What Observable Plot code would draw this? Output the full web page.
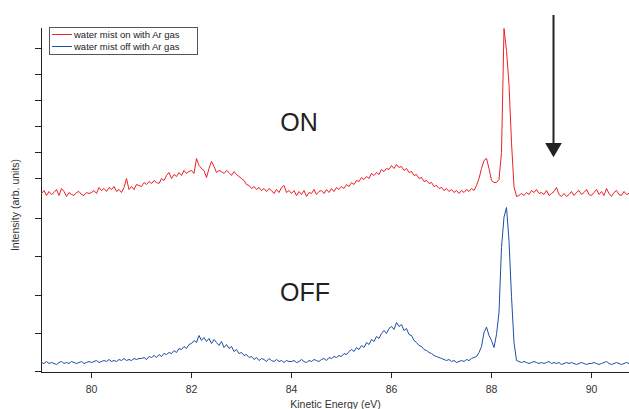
<!DOCTYPE html>
<html><head><meta charset="utf-8">
<script src="https://cdn.jsdelivr.net/npm/d3@7"></script>
<script src="https://cdn.jsdelivr.net/npm/@observablehq/plot@0.6"></script>
<style>
body{margin:0;background:#fff;font-family:"Liberation Sans",Arial,sans-serif;}
#wrap{position:relative;width:629px;height:409px;}
#legend{position:absolute;left:49px;top:27px;width:147px;height:26px;border:1px solid #555;background:#fff;font-size:9.5px;color:#222;}
.row{position:absolute;left:2px;height:12px;display:flex;align-items:center;white-space:nowrap;}
.sw{width:20px;height:1px;margin-right:2px;}
#ylab{position:absolute;left:15px;top:205px;transform:translate(-50%,-50%) rotate(-90deg);font-size:10.5px;white-space:nowrap;color:#333;}
</style></head><body><div id="wrap"></div>
<script>
// Spectra sampled every 0.05 eV from 79.00 eV (arb. units)
const eStart = 79.0, eStep = 0.05;
const seriesNames = ["water mist on with Ar gas", "water mist off with Ar gas"];
const seriesColors = ["#ee1f26", "#1f4fa3"];
const onValues = [
  89.5, 91, 88.5, 90.5, 89, 90, 91.5, 88.5, 92, 90.5, 88, 90, 89, 88.5, 90, 90.5, 89, 88.5, 90, 89.5,
  90, 91, 89.5, 92.5, 91, 92, 90.5, 92.5, 91.5, 93, 90.5, 91.5, 90, 92.5, 97, 91.5, 93, 91.5, 94, 93.5,
  93, 95, 94, 95.5, 94.5, 96, 95, 94.5, 97, 96, 98.5, 100, 97, 99, 98, 100, 98.5, 101, 99.5, 100.5,
  101, 99.5, 107, 103.5, 102, 101, 97.5, 102, 105.5, 103, 100, 101, 100.5, 99.5, 101, 100, 98.5, 100.5, 99, 98,
  97, 96, 94, 93.5, 92, 93, 91.5, 92.5, 91, 92, 90.5, 92, 91, 89.5, 91.5, 90, 92.5, 93.5, 90, 91,
  89.5, 91, 88.5, 90.5, 89, 91, 88, 90, 89.5, 91.5, 89, 90.5, 91, 89.5, 91.5, 90, 92, 90.5, 92.5, 91.5,
  93, 92, 94, 93, 95, 94, 96, 95.5, 97.5, 96.5, 98, 97, 99.5, 98.5, 100, 99, 101.5, 100.5, 102, 101.5,
  103.5, 102, 104, 102.5, 103, 101, 102, 100, 100.5, 98.5, 99, 97, 97.5, 95.5, 96, 94.5, 95, 93, 93.5, 92,
  92.5, 91, 92, 90.5, 91.5, 90, 91, 89.5, 91, 90, 91.5, 90.5, 92, 91, 93.5, 97, 102, 106, 107, 102,
  96, 95, 95, 96.5, 110, 172, 161, 144, 115, 93, 88, 88.5, 89.5, 88.5, 90, 89, 91, 90, 91.5, 89.5,
  90, 89, 91, 88.5, 89.5, 90.5, 92.5, 89, 88, 89.5, 88, 89, 90.5, 88.5, 90, 91, 89, 90, 91.5, 89,
  88.5, 90, 91.5, 89, 90.5, 88.5, 92, 89.5, 88, 90, 91, 89, 88.5, 90.5, 89, 89.5, 91
];
const offValues = [
  5, 4.5, 5.5, 4.5, 5, 4.5, 4, 5, 5.5, 4.5, 5, 4.5, 5.5, 5, 4.5, 5, 5.5, 4.5, 5, 5.5,
  5, 5.5, 6, 5, 5.5, 6, 5.5, 6.5, 5.5, 6, 5.5, 6.5, 6, 7, 6, 6.5, 6, 7, 6.5, 7,
  7, 7.5, 6.5, 8, 7.5, 8.5, 7.5, 9, 8, 9.5, 9, 10, 9.5, 11, 10, 12, 11.5, 13, 12, 14,
  14.5, 16, 15, 18.5, 16, 17.5, 15.5, 17, 14.5, 16.5, 15, 13.5, 15.5, 12.5, 14, 12, 13, 10.5, 11.5, 9.5,
  10, 8.5, 9, 7.5, 8, 6.5, 7.5, 6, 7, 6.5, 5.5, 7, 6, 5.5, 6.5, 5.5, 6, 5, 6, 5.5,
  5.5, 6, 5, 5.5, 6.5, 5.5, 5, 6, 5.5, 6.5, 6, 5.5, 6.5, 7, 6, 7.5, 7, 8, 7.5, 8.5,
  8, 9.5, 9, 10.5, 11.5, 10.5, 12.5, 11.5, 13.5, 12.5, 15, 14, 16.5, 15.5, 18, 17, 19.5, 21, 19.5, 22,
  23, 21.5, 25, 23, 24, 21, 22, 19, 18.5, 16, 15, 13.5, 13, 11.5, 11, 10, 9.5, 8.5, 8, 7.5,
  7, 6.5, 6, 6.5, 5.5, 6, 5, 5.5, 6, 5.5, 6.5, 6, 7, 7.5, 8, 10, 13, 20, 22.7, 18.5,
  16, 12.5, 19, 30, 62.5, 77.7, 82.5, 66, 38, 15, 6, 5.5, 5, 5.5, 5, 4.5, 5, 5.5, 5, 4.5,
  5, 4.5, 5, 5.5, 4.5, 5, 4.5, 5, 4, 4.5, 5, 4.5, 5, 4.5, 4, 4.5, 5, 4.5, 4, 4.5,
  4.5, 5, 4.5, 4, 4.5, 5, 5.5, 4.5, 4, 4.5, 5, 4.5, 4, 4.5, 5, 4.5, 4.5
];
const xTicks = [80, 82, 84, 86, 88, 90];
const yTicksOn = [97, 110, 123, 136, 149, 162];
const yTicksOff = [0.5, 19.5, 38.5, 58, 77];
const axisTop = 172;
const panelLabels = ["ON", "OFF"];
const panelLabelX = [84.15, 84.27];
const panelLabelY = [121, 36];
const arrowX = [89.24];
const arrowTop = [178.5];
const arrowShaftEnd = [114.5];
const arrowHead = [112.4];

const onData = onValues.map((v, i) => ({e: eStart + i * eStep, v}));
const offData = offValues.map((v, i) => ({e: eStart + i * eStep, v}));
const labelData = panelLabels.map((t, i) => ({t, x: panelLabelX[i], y: panelLabelY[i]}));
const arrowData = arrowX.map((x, i) => ({x, top: arrowTop[i], end: arrowShaftEnd[i], head: arrowHead[i]}));

const chart = Plot.plot({
  width: 629, height: 409,
  marginLeft: 41, marginRight: 0, marginTop: 0, marginBottom: 37,
  x: {domain: [79, 90.76]},
  y: {domain: [0, 186]},
  style: {fontFamily: '"Liberation Sans", Arial, sans-serif', fontSize: "10.5px", color: "#222", background: "white"},
  marks: [
    Plot.axisX({ticks: xTicks, tickSize: 6, tickPadding: 7, label: "Kinetic Energy (eV)", labelAnchor: "center", labelArrow: "none", labelOffset: 35, fill: "#333"}),
    Plot.axisY({ticks: [...yTicksOn, ...yTicksOff], tickSize: 6, tickFormat: () => "", label: null}),
    Plot.ruleY([0], {stroke: "#222"}),
    Plot.ruleX([79], {y1: 0, y2: axisTop, stroke: "#222"}),
    Plot.line(onData, {x: "e", y: "v", stroke: seriesColors[0], strokeWidth: 1}),
    Plot.line(offData, {x: "e", y: "v", stroke: seriesColors[1], strokeWidth: 1}),
    Plot.text(labelData, {x: "x", y: "y", text: "t", fontSize: 25, textAnchor: "middle", lineAnchor: "bottom", fill: "#222"}),
    Plot.ruleX(arrowData, {x: "x", y1: "top", y2: "end", stroke: "#222", strokeWidth: 2}),
    Plot.dot(arrowData, {x: "x", y: "head", symbol: "triangle", rotate: 180, r: 6.2, fill: "#222", stroke: "none"})
  ]
});
const wrap = document.getElementById("wrap");
wrap.appendChild(chart);
const lg = document.createElement("div");
lg.id = "legend";
seriesNames.forEach((n, i) => {
  const row = document.createElement("div");
  row.className = "row";
  row.style.top = (i * 12) + "px";
  row.innerHTML = `<span class="sw" style="background:${seriesColors[i]}"></span><span>${n}</span>`;
  lg.appendChild(row);
});
wrap.appendChild(lg);
const yl = document.createElement("div");
yl.id = "ylab";
yl.textContent = "Intensity (arb. units)";
wrap.appendChild(yl);
</script>
</body></html>
